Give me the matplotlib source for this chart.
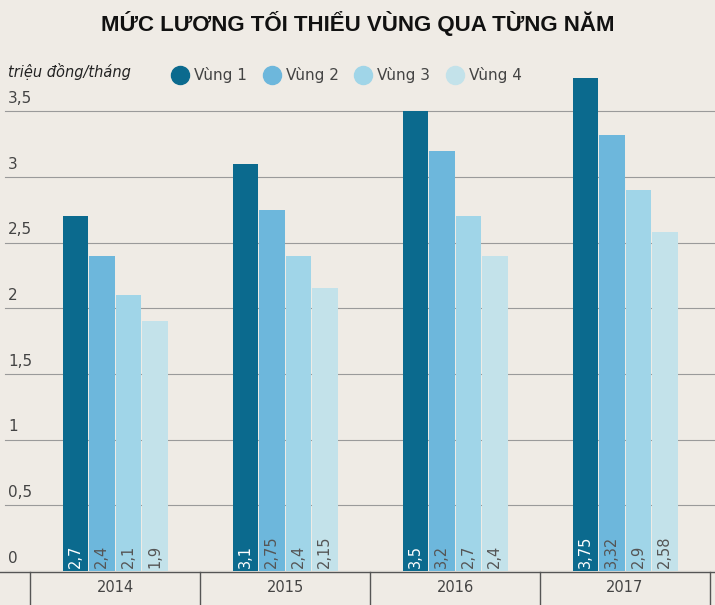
import matplotlib
matplotlib.use("Agg")
import matplotlib.pyplot as plt
from matplotlib.lines import Line2D

years = ["2014", "2015", "2016", "2017"]
series = ["Vùng 1", "Vùng 2", "Vùng 3", "Vùng 4"]
v1 = [2.7, 3.1, 3.5, 3.75]
v2 = [2.4, 2.75, 3.2, 3.32]
v3 = [2.1, 2.4, 2.7, 2.9]
v4 = [1.9, 2.15, 2.4, 2.58]
labels = [["2,7", "3,1", "3,5", "3,75"], ["2,4", "2,75", "3,2", "3,32"],
          ["2,1", "2,4", "2,7", "2,9"], ["1,9", "2,15", "2,4", "2,58"]]
yticks = [0, 0.5, 1, 1.5, 2, 2.5, 3, 3.5]
ytl = ["0", "0,5", "1", "1,5", "2", "2,5", "3", "3,5"]

colors = ["#0b6a8e", "#6db7dc", "#a0d5e8", "#c3e2ea"]
txtc = ["white", "#555555", "#555555", "#555555"]
bg = "#efebe5"

W, H = 715, 605
fig = plt.figure(figsize=(W/100, H/100), dpi=100, facecolor=bg)
ax_bottom = (H-571)/H
ax = fig.add_axes([0, ax_bottom, 1, 1-ax_bottom])
ax.set_facecolor(bg)
ppu = 131.4
ax.set_ylim(0, 571/ppu)
xl0 = -115/170
ax.set_xlim(xl0, xl0 + W/170)
for s in ax.spines.values():
    s.set_visible(False)
ax.set_xticks([]); ax.set_yticks([])

for t, lab in zip(yticks, ytl):
    ax.plot([xl0 + 5/170, xl0 + W/170], [t, t], color="#9a9a9a", lw=0.8, zorder=0)
    ax.text(xl0 + 8/170, t + 0.04, lab, fontsize=11, color="#444444", va="bottom", ha="left")

bw = 25.5/170
step = 26.5/170
data = [v1, v2, v3, v4]
for i, vals in enumerate(data):
    xs = [k + (i-1.5)*step for k in range(4)]
    ax.bar(xs, vals, width=bw, color=colors[i], zorder=2)
    for x, lab in zip(xs, labels[i]):
        ax.text(x, 0.02, lab, rotation=90, ha="center", va="bottom", fontsize=10.5,
                color=txtc[i], zorder=3)

# bottom axis
fig.add_artist(Line2D([0, 1], [1-572/H, 1-572/H], color="#555555", lw=1))
for px in [30, 200, 370, 540, 710]:
    fig.add_artist(Line2D([px/W, px/W], [0, 1-572/H], color="#555555", lw=1))
for k, y in enumerate(years):
    fig.text((115+170*k)/W, 1-588/H, y, ha="center", va="center", fontsize=10.5, color="#444444")

fig.text(0.5, 1-24/H, "MỨC LƯƠNG TỐI THIỂU VÙNG QUA TỪNG NĂM", ha="center", va="center",
         fontsize=16, fontweight="bold", color="#111111", family="Liberation Sans")
fig.text(8/W, 1-72/H, "triệu đồng/tháng", ha="left", va="center", fontsize=10.5,
         style="italic", color="#222222")
lx = [180, 272, 363, 455]
for x, s, c in zip(lx, series, colors):
    fig.add_artist(Line2D([x/W], [1-75/H], marker="o", markersize=13, color=c, lw=0))
    fig.text((x+14)/W, 1-75/H, s, ha="left", va="center", fontsize=11, color="#444444")

fig.savefig("out.png", dpi=100, facecolor=bg)
